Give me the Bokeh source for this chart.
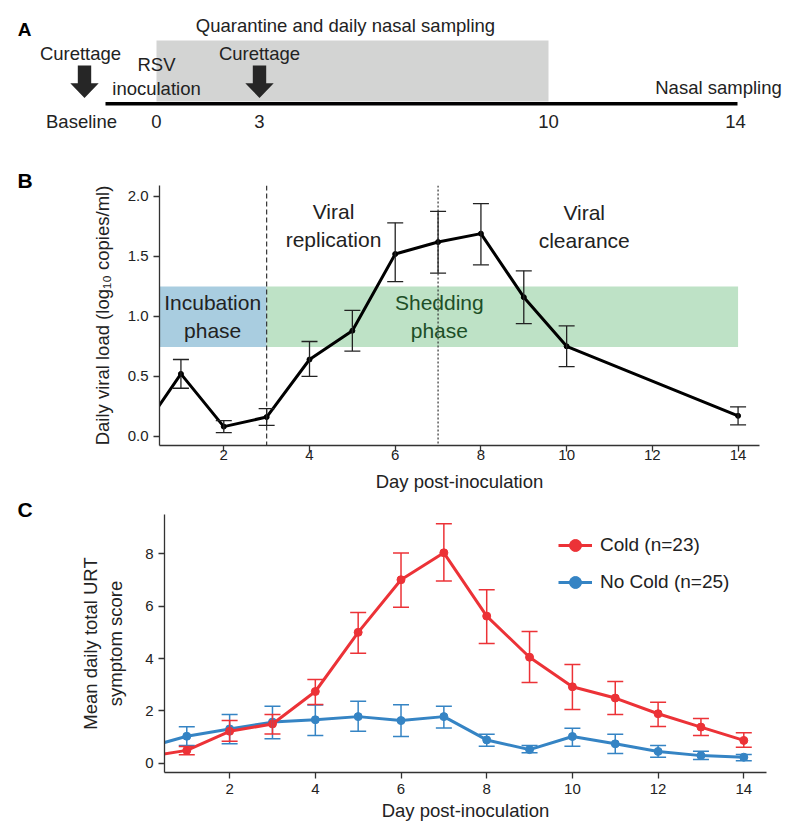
from bokeh.plotting import figure
from bokeh.models import (Range1d, ColumnDataSource, Whisker, TeeHead, Span, FixedTicker,
                          Legend, LegendItem, PrintfTickFormatter, Title)
from bokeh.embed import file_html
from bokeh.resources import INLINE
from bokeh.core.properties import value

FONT = "Liberation Sans"

# ---------------- Panel A: schematic timeline ----------------
timeline_labels = ["Baseline", "0", "3", "10", "14"]
timeline_pos = [81, 156, 259, 548, 735]          # schematic (non-linear) positions
quarantine_label = "Quarantine and daily nasal sampling"
event_labels = ["Curettage", "RSV\ninoculation", "Curettage", "Nasal sampling"]
event_pos = [80, 156, 259, 718]
event_rows = [53, 76, 53, 87]
arrow_pos = [84, 259]

# ---------------- Panel B: daily viral load ----------------
b_days = [0, 1, 2, 3, 4, 5, 6, 7, 8, 9, 10, 14]
b_load = [0.0, 0.52, 0.08, 0.16, 0.64, 0.88, 1.52, 1.62, 1.69, 1.16, 0.75, 0.17]
b_err_days = [1, 2, 3, 4, 5, 6, 7, 8, 9, 10, 14]
b_lower = [0.40, 0.03, 0.09, 0.50, 0.71, 1.29, 1.36, 1.43, 0.94, 0.58, 0.095]
b_upper = [0.64, 0.13, 0.23, 0.79, 1.05, 1.78, 1.875, 1.94, 1.38, 0.92, 0.245]
phase_names = ["Incubation\nphase", "Shedding\nphase"]
phase_start = [0.5, 3]
phase_end = [3, 14]
phase_low = [0.745, 0.745]
phase_high = [1.25, 1.25]
phase_text_x = [1.74, 7.03]
phase_text_y = [1.0, 1.0]
stage_names = ["Viral\nreplication", "Viral\nclearance"]
stage_x = [4.56, 10.41]
stage_y = [1.76, 1.75]
b_xticks = [2, 4, 6, 8, 10, 12, 14]
b_yticks = [0.0, 0.5, 1.0, 1.5, 2.0]

# ---------------- Panel C: symptom scores ----------------
c_days = [0, 1, 2, 3, 4, 5, 6, 7, 8, 9, 10, 11, 12, 13, 14]
cold = [0.23, 0.49, 1.22, 1.50, 2.74, 5.00, 7.01, 8.04, 5.62, 4.05, 2.92, 2.49, 1.89, 1.38, 0.87]
cold_lo = [0.23, 0.32, 0.84, 1.12, 2.24, 4.20, 5.96, 6.96, 4.57, 3.08, 2.05, 1.86, 1.40, 1.06, 0.61]
cold_hi = [0.23, 0.64, 1.63, 1.86, 3.20, 5.76, 8.03, 9.15, 6.63, 5.03, 3.77, 3.12, 2.33, 1.71, 1.16]
nocold = [0.57, 1.03, 1.31, 1.57, 1.66, 1.78, 1.63, 1.78, 0.89, 0.52, 1.02, 0.74, 0.45, 0.29, 0.23]
nocold_lo = [0.57, 0.68, 0.74, 0.93, 1.06, 1.22, 1.02, 1.35, 0.65, 0.40, 0.65, 0.37, 0.23, 0.14, 0.09]
nocold_hi = [0.57, 1.39, 1.86, 2.18, 2.22, 2.37, 2.23, 2.18, 1.11, 0.68, 1.34, 1.11, 0.68, 0.46, 0.33]
series_names = ["Cold (n=23)", "No Cold (n=25)"]
c_xticks = [2, 4, 6, 8, 10, 12, 14]
c_yticks = [0, 2, 4, 6, 8]

RED = "#ec3237"
BLUE = "#3584c4"
INK = "#222222"

# =============== Figure A ===============
pA = figure(width=800, height=140, x_range=Range1d(0, 800), y_range=Range1d(140, 0),
            output_backend="svg", toolbar_location=None, title=None,
            x_axis_location=None, y_axis_location=None, min_border=0)
pA.grid.visible = False
pA.outline_line_color = None

pA.quad(left=[timeline_pos[1]], right=[timeline_pos[3]], top=[40], bottom=[101],
        fill_color="#d3d4d3", line_color=None)
pA.segment(x0=[timeline_pos[0] + 24], y0=[103.3], x1=[timeline_pos[-1] + 2], y1=[103.3],
           line_color="black", line_width=3.5)
xs, ys = [], []
for ax in arrow_pos:
    xs.append([ax - 6.7, ax + 6.7, ax + 6.7, ax + 14.2, ax, ax - 14.2, ax - 6.7])
    ys.append([65, 65, 82.7, 82.7, 97.5, 82.7, 82.7])
pA.patches(xs=xs, ys=ys, fill_color="#262626", line_color=None)

fsA = value("18.5px")
pA.text(x=timeline_pos, y=[121] * len(timeline_pos), text=timeline_labels,
        text_align="center", text_baseline="middle", text_font=value(FONT),
        text_font_size=fsA, text_color=INK)
pA.text(x=event_pos, y=event_rows, text=event_labels, text_align="center",
        text_baseline="middle", text_font=value(FONT), text_font_size=fsA,
        text_color=INK, text_line_height=1.15)
pA.text(x=[345], y=[25], text=[quarantine_label], text_align="center",
        text_baseline="middle", text_font=value(FONT), text_font_size=fsA, text_color=INK)
pA.text(x=[24], y=[29], text=["A"], text_align="center", text_baseline="middle",
        text_font=value(FONT), text_font_size=value("19px"), text_font_style="bold",
        text_color="black")


def style_axes(p, xticks, yticks):
    for ax in (p.xaxis[0], p.yaxis[0]):
        ax.axis_line_color = "#333333"
        ax.axis_line_width = 1.3
        ax.major_tick_line_color = "#333333"
        ax.major_tick_line_width = 1.3
        ax.major_tick_in = 0
        ax.major_tick_out = 6
        ax.minor_tick_line_color = None
        ax.major_label_text_font = FONT
        ax.major_label_text_font_size = "15px"
        ax.major_label_text_color = INK
        ax.axis_label_text_font = FONT
        ax.axis_label_text_font_size = "18.5px"
        ax.axis_label_text_font_style = "normal"
        ax.axis_label_text_color = INK
    p.xaxis[0].ticker = FixedTicker(ticks=xticks)
    p.yaxis[0].ticker = FixedTicker(ticks=yticks)
    p.yaxis[0].major_label_standoff = 5
    p.grid.visible = False
    p.outline_line_color = None


def panel_letter(p, letter, offset):
    p.add_layout(Title(text=letter, align="left", offset=offset, vertical_align="bottom",
                       standoff=-12, text_font=FONT, text_font_size="21px",
                       text_font_style="bold", text_color="black"), "above")


# =============== Figure B ===============
pB = figure(width=800, height=355, x_range=Range1d(0.5, 14.5), y_range=Range1d(-0.0775, 2.0917),
            output_backend="svg", toolbar_location=None, title=None,
            min_border_left=159, min_border_right=41, min_border_top=45, min_border_bottom=50)
style_axes(pB, b_xticks, b_yticks)
pB.xaxis[0].axis_label = "Day post-inoculation"
pB.yaxis[0].axis_label = "Daily viral load (log\u2081\u2080 copies/ml)"
pB.yaxis[0].formatter = PrintfTickFormatter(format="%.1f")
pB.xaxis[0].major_label_standoff = -2
pB.xaxis[0].axis_label_standoff = 8
pB.yaxis[0].axis_label_standoff = 12

pB.quad(left=phase_start, right=phase_end, bottom=phase_low, top=phase_high,
        fill_color=["#a9cde0", "#bee2c6"], line_color=None, level="underlay")
pB.add_layout(Span(location=3, dimension="height", line_color="#333333",
                   line_width=1.2, line_dash="5 3", level="underlay"))
pB.add_layout(Span(location=7, dimension="height", line_color="#333333",
                   line_width=1.2, line_dash="2 2", level="underlay"))
pB.text(x=phase_text_x, y=phase_text_y, text=phase_names, text_align="center",
        text_baseline="middle", text_font=value(FONT), text_font_size=value("21px"),
        text_color=["#222222", "#1d4f27"], text_line_height=1.2)
pB.text(x=stage_x, y=stage_y, text=stage_names, text_align="center",
        text_baseline="middle", text_font=value(FONT), text_font_size=value("21px"),
        text_color=INK, text_line_height=1.2)

srcB = ColumnDataSource(dict(x=b_err_days, lower=b_lower, upper=b_upper))
wB = Whisker(base="x", lower="lower", upper="upper", source=srcB, line_color=INK, line_width=1.3,
             upper_head=TeeHead(size=16, line_color=INK, line_width=1.3),
             lower_head=TeeHead(size=16, line_color=INK, line_width=1.3), level="glyph")
pB.add_layout(wB)
pB.line(b_days, b_load, line_color="black", line_width=3)
pB.scatter(b_days, b_load, size=5, color="black")
panel_letter(pB, "B", -142)

# =============== Figure C ===============
pC = figure(width=800, height=342, x_range=Range1d(0.48, 14.53), y_range=Range1d(-0.355, 9.503),
            output_backend="svg", toolbar_location=None, title=None,
            min_border_left=164, min_border_right=34, min_border_top=19, min_border_bottom=65)
style_axes(pC, c_xticks, c_yticks)
pC.xaxis[0].axis_label = "Day post-inoculation"
pC.yaxis[0].axis_label = "Mean daily total URT\nsymptom score"
pC.xaxis[0].major_label_standoff = 5
pC.xaxis[0].axis_label_standoff = 3
pC.yaxis[0].axis_label_standoff = 16

renderers = []
for vals, lo, hi, col in ((nocold, nocold_lo, nocold_hi, BLUE), (cold, cold_lo, cold_hi, RED)):
    src = ColumnDataSource(dict(x=c_days[1:], lower=lo[1:], upper=hi[1:]))
    w = Whisker(base="x", lower="lower", upper="upper", source=src, line_color=col, line_width=1.5,
                upper_head=TeeHead(size=16, line_color=col, line_width=1.5),
                lower_head=TeeHead(size=16, line_color=col, line_width=1.5), level="glyph")
    pC.add_layout(w)
    rl = pC.line(c_days, vals, line_color=col, line_width=3)
    rs = pC.scatter(c_days, vals, size=8, color=col)
    renderers.append((rl, rs))

legend = Legend(items=[LegendItem(label=series_names[0], renderers=list(renderers[1])),
                       LegendItem(label=series_names[1], renderers=list(renderers[0]))],
                location=(394, 175), padding=0, margin=0, spacing=7,
                glyph_width=34, glyph_height=30, label_height=30, label_standoff=8,
                label_text_font=FONT, label_text_font_size="19px", label_text_color=INK,
                border_line_color=None, background_fill_alpha=0)
pC.add_layout(legend)
panel_letter(pC, "C", -147)

open("out.html", "w").write(file_html([pA, pB, pC], INLINE))
